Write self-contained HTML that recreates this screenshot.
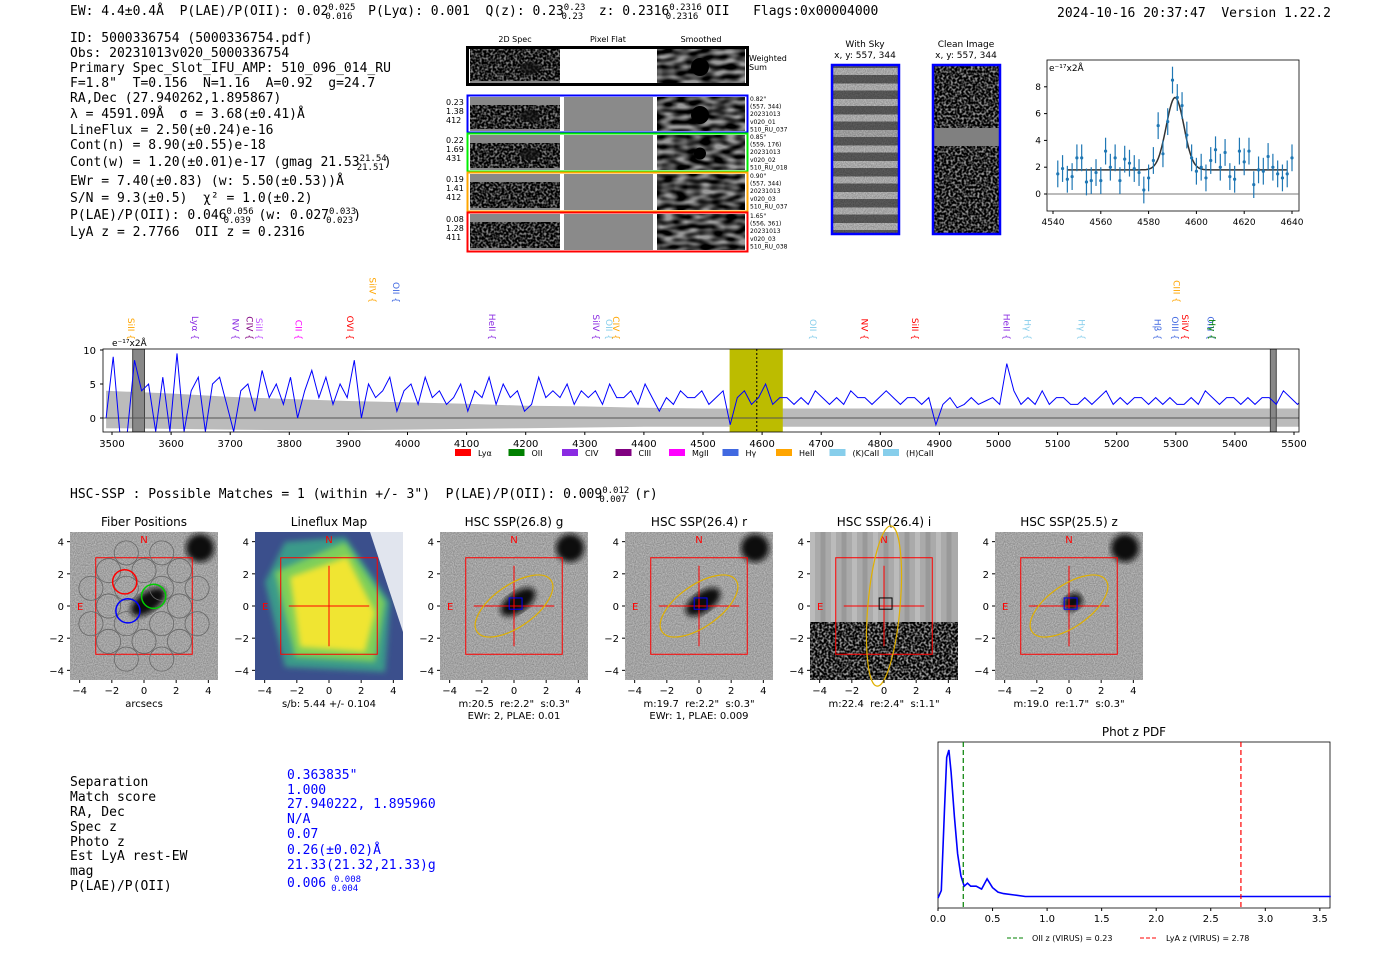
<!DOCTYPE html>
<html><head><meta charset="utf-8">
<style>
body{margin:0;background:#fff;width:1400px;height:953px;overflow:hidden;font-family:"Liberation Sans",sans-serif}
svg{position:absolute;left:0;top:0}
text{white-space:pre}
.m{font-family:"DejaVu Sans Mono","Liberation Mono",monospace;font-size:13px}
.s{font-family:"DejaVu Sans","Liberation Sans",sans-serif}
</style></head><body>
<svg id="root" width="1400" height="953" viewBox="0 0 1400 953" xmlns="http://www.w3.org/2000/svg" xml:space="preserve">
<defs>
<filter id="noise" x="0" y="0" width="100%" height="100%"><feTurbulence type="fractalNoise" baseFrequency="0.45" numOctaves="1" seed="3"/><feColorMatrix type="matrix" values="0 0 0 0 0  0 0 0 0 0  0 0 0 0 0  0 0 0 -3 2.2"/></filter>
<filter id="smooth" x="0" y="0" width="100%" height="100%"><feTurbulence type="fractalNoise" baseFrequency="0.08 0.2" numOctaves="1" seed="7"/><feColorMatrix type="matrix" values="0 0 0 0 0  0 0 0 0 0  0 0 0 0 0  0 0 0 -2.5 1.8"/></filter>
<filter id="fine" x="0" y="0" width="100%" height="100%"><feTurbulence type="fractalNoise" baseFrequency="0.9" numOctaves="1" seed="11"/><feColorMatrix type="matrix" values="0 0 0 0 0  0 0 0 0 0  0 0 0 0 0  0 0 0 -0.4 0.5"/></filter>
<filter id="blur2"><feGaussianBlur stdDeviation="3"/></filter>
<clipPath id="wclip"><rect x="103" y="349" width="1196" height="83"/></clipPath>
</defs>
<g class="m" fill="#000">
<text x="70" y="15">EW: 4.4±0.4Å  P(LAE)/P(OII): 0.02<tspan font-size="9" dy="-5">0.025</tspan><tspan font-size="9" dx="-30" dy="9">0.016</tspan><tspan dy="-4">  P(Lyα): 0.001  Q(z): 0.23</tspan><tspan font-size="9" dy="-5">0.23</tspan><tspan font-size="9" dx="-24" dy="9">0.23</tspan><tspan dy="-4">  z: 0.2316</tspan><tspan font-size="9" dy="-5">0.2316</tspan><tspan font-size="9" dx="-36" dy="9">0.2316</tspan><tspan dy="-4"> OII   Flags:0x00004000</tspan></text>
<text x="1057" y="17">2024-10-16 20:37:47  Version 1.22.2</text>
</g>
<g class="m">
<text x="70" y="42">ID: 5000336754 (5000336754.pdf)</text>
<text x="70" y="57">Obs: 20231013v020_5000336754</text>
<text x="70" y="72">Primary Spec_Slot_IFU_AMP: 510_096_014_RU</text>
<text x="70" y="87">F=1.8"  T=0.156  N=1.16  A=0.92  g=24.7</text>
<text x="70" y="102">RA,Dec (27.940262,1.895867)</text>
<text x="70" y="118">λ = 4591.09Å  σ = 3.68(±0.41)Å</text>
<text x="70" y="134">LineFlux = 2.50(±0.24)e-16</text>
<text x="70" y="149">Cont(n) = 8.90(±0.55)e-18</text>
<text x="70" y="166">Cont(w) = 1.20(±0.01)e-17 (gmag 21.53<tspan font-size="9" dy="-5">21.54</tspan><tspan font-size="9" dx="-30" dy="9">21.51</tspan><tspan dy="-4">)</tspan></text>
<text x="70" y="185">EWr = 7.40(±0.83) (w: 5.50(±0.53))Å</text>
<text x="70" y="202">S/N = 9.3(±0.5)  χ² = 1.0(±0.2)</text>
<text x="70" y="219">P(LAE)/P(OII): 0.046<tspan font-size="9" dy="-5">0.056</tspan><tspan font-size="9" dx="-30" dy="9">0.039</tspan><tspan dy="-4"> (w: 0.027</tspan><tspan font-size="9" dy="-5">0.033</tspan><tspan font-size="9" dx="-30" dy="9">0.023</tspan><tspan dy="-4">)</tspan></text>
<text x="70" y="236">LyA z = 2.7766  OII z = 0.2316</text>
</g>
<g id="spec2d"></g>
<g id="cutouts"></g>
<g id="zoomspec"></g>
<g id="widespec"></g>
<g class="m"><text x="70" y="498">HSC-SSP : Possible Matches = 1 (within +/- 3")  P(LAE)/P(OII): 0.009<tspan font-size="9" dy="-5">0.012</tspan><tspan font-size="9" dx="-30" dy="9">0.007</tspan><tspan dy="-4"> (r)</tspan></text></g>
<g id="hsc"></g>
<g class="m">
<text x="70" y="786">Separation</text><text x="70" y="801">Match score</text><text x="70" y="816">RA, Dec</text><text x="70" y="831">Spec z</text><text x="70" y="846">Photo z</text><text x="70" y="860">Est LyA rest-EW</text><text x="70" y="875">mag</text><text x="70" y="890">P(LAE)/P(OII)</text>
<g fill="#00f"><text x="287" y="779">0.363835"</text><text x="287" y="794">1.000</text><text x="287" y="808">27.940222, 1.895960</text><text x="287" y="823">N/A</text><text x="287" y="838">0.07</text><text x="287" y="854">0.26(±0.02)Å</text><text x="287" y="869">21.33(21.32,21.33)g</text><text x="287" y="887">0.006 <tspan font-size="9" dy="-5">0.008</tspan><tspan font-size="9" dx="-30" dy="9">0.004</tspan></text></g>
</g>
<g id="photz"></g>
</svg>
<script>
const NS="http://www.w3.org/2000/svg";
function mk(p,tag,at,txt){const e=document.createElementNS(NS,tag);for(const k in at)e.setAttribute(k,at[k]);if(txt!==undefined)e.textContent=txt;p.appendChild(e);return e;}

// ---------- 2D spec panels ----------
(function(){
const g=document.getElementById('spec2d');
mk(g,'text',{x:515,y:42,'font-size':8,'text-anchor':'middle',class:'s'},'2D Spec');
mk(g,'text',{x:608,y:42,'font-size':8,'text-anchor':'middle',class:'s'},'Pixel Flat');
mk(g,'text',{x:701,y:42,'font-size':8,'text-anchor':'middle',class:'s'},'Smoothed');
const rows=[{y:47,h:38,c:'#000',vals:null,info:null},
{y:95,h:38,c:'#00f',vals:['0.23','1.38','412'],info:['0.82"','(557, 344)','20231013','v020_01','510_RU_037']},
{y:133,h:39,c:'#0e0',vals:['0.22','1.69','431'],info:['0.85"','(559, 176)','20231013','v020_02','510_RU_018']},
{y:172,h:40,c:'orange',vals:['0.19','1.41','412'],info:['0.90"','(557, 344)','20231013','v020_03','510_RU_037']},
{y:212,h:40,c:'#f00',vals:['0.08','1.28','411'],info:['1.65"','(556, 361)','20231013','v020_03','510_RU_038']}];
rows.forEach((r,i)=>{
 const row=mk(g,'g',{});
 
 
 mk(row,'rect',{x:470,y:r.y+2,width:90,height:r.h-4,fill:'#888'});
 mk(row,'rect',{x:470,y:r.y+(i?10:2),width:90,height:r.h-(i?14:6),fill:'#888',filter:'url(#noise)'});
 if(i==0||i==1||i==2) mk(row,'ellipse',{cx:530,cy:r.y+r.h/2+2,rx:10,ry:6,fill:'#111',opacity:0.7});
 if(i>0){mk(row,'rect',{x:564,y:r.y+2,width:89,height:r.h-4,fill:'#8a8a8a'});}
 mk(row,'rect',{x:657,y:r.y+2,width:88,height:r.h-4,fill:'#999'});
 mk(row,'rect',{x:657,y:r.y+2,width:88,height:r.h-4,fill:'#999',filter:'url(#smooth)'});
 if(i<3) mk(row,'circle',{cx:700,cy:r.y+r.h/2+1,r:i==2?6:9,fill:'#000'});
 mk(row,'rect',{x:467.5,y:r.y+0.5,width:280,height:r.h-1,fill:'none',stroke:r.c,'stroke-width':i?2:3});
 if(r.vals) r.vals.forEach((v,k)=>mk(row,'text',{x:446,y:r.y+10+k*9,'font-size':8,class:'s'},v));
 if(r.info) r.info.forEach((v,k)=>mk(row,'text',{x:750,y:r.y+6+k*7.6,'font-size':6,class:'s'},v));
});
mk(g,'text',{x:749,y:61,'font-size':8,class:'s'},'Weighted');
mk(g,'text',{x:749,y:70,'font-size':8,class:'s'},'Sum');
})();

// ---------- sky / clean cutouts ----------
(function(){
const g=document.getElementById('cutouts');
mk(g,'text',{x:865,y:47,'font-size':9,'text-anchor':'middle',class:'s'},'With Sky');
mk(g,'text',{x:865,y:58,'font-size':9,'text-anchor':'middle',class:'s'},'x, y: 557, 344');
mk(g,'text',{x:966,y:47,'font-size':9,'text-anchor':'middle',class:'s'},'Clean Image');
mk(g,'text',{x:966,y:58,'font-size':9,'text-anchor':'middle',class:'s'},'x, y: 557, 344');
mk(g,'rect',{x:832,y:65,width:67,height:169,fill:'#777'});
for(let k=0;k<11;k++) mk(g,'rect',{x:832,y:68+k*15.5,width:67,height:7,fill:(k==4?'#ddd':'#eee')});
mk(g,'rect',{x:832,y:65,width:67,height:169,fill:'#888',filter:'url(#fine)'});
mk(g,'rect',{x:832,y:65,width:67,height:169,fill:'none',stroke:'#00f','stroke-width':2.5});
mk(g,'rect',{x:933,y:65,width:67,height:169,fill:'#999'});
mk(g,'rect',{x:933,y:65,width:67,height:169,fill:'#888',filter:'url(#noise)'});
mk(g,'rect',{x:933,y:128,width:67,height:18,fill:'#808080'});
mk(g,'rect',{x:933,y:65,width:67,height:169,fill:'none',stroke:'#00f','stroke-width':2.5});
})();

// ---------- line fit plot ----------
const fitWave=[4542,4544,4546,4548,4550,4552,4554,4556,4558,4560,4562,4564,4566,4568,4570,4572,4574,4576,4578,4580,4582,4584,4586,4588,4590,4592,4594,4596,4598,4600,4602,4604,4606,4608,4610,4612,4614,4616,4618,4620,4622,4624,4626,4628,4630,4632,4634,4636,4638,4640];
const fitFlux=[1.5,1.9,1.1,1.3,2.7,2.7,0.9,1.0,1.6,1.0,3.2,2.0,2.7,1.0,2.6,2.3,1.9,1.6,0.3,1.2,2.5,5.1,3.0,5.4,8.5,7.2,6.6,4.4,2.7,1.7,2.0,1.2,2.5,3.3,2.0,3.1,1.3,1.1,3.2,2.4,3.2,0.7,1.8,1.7,2.8,2.0,1.5,1.2,1.5,2.7];
const fitErr=[1.0,1.0,1.0,1.0,1.0,1.0,1.0,1.0,1.0,1.0,1.0,1.0,1.0,1.0,1.0,1.0,1.0,1.0,1.0,1.0,1.0,1.0,1.0,1.0,1.0,1.0,1.0,1.0,1.0,1.0,1.0,1.0,1.0,1.0,1.0,1.0,1.0,1.0,1.0,1.0,1.0,1.0,1.0,1.0,1.0,1.0,1.0,1.0,1.0,1.0];
const fitParams=[4591.09,3.68,1.8,5.4];
const fitXTicks=[4540,4560,4580,4600,4620,4640];
const fitYTicks=[0,2,4,6,8];
(function(){
const g=document.getElementById('zoomspec');
const X=w=>1053+(w-4540)*2.39, Y=v=>194-v*13.4;
mk(g,'rect',{x:1047,y:60,width:252,height:151,fill:'none',stroke:'#000','stroke-width':0.8});
mk(g,'line',{x1:1047,x2:1299,y1:Y(0),y2:Y(0),stroke:'#777','stroke-width':1});
fitXTicks.forEach(t=>{mk(g,'line',{x1:X(t),x2:X(t),y1:211,y2:214,stroke:'#000'});mk(g,'text',{x:X(t),y:225,'font-size':9,'text-anchor':'middle',class:'s'},t);});
fitYTicks.forEach(t=>{mk(g,'line',{x1:1044,x2:1047,y1:Y(t),y2:Y(t),stroke:'#000'});mk(g,'text',{x:1041,y:Y(t)+3,'font-size':9,'text-anchor':'end',class:'s'},t);});
mk(g,'text',{x:1049,y:71,'font-size':9,class:'s'},'e⁻¹⁷x2Å');
let d='';for(let w=4546;w<=4638;w+=0.5){const v=fitParams[2]+fitParams[3]*Math.exp(-0.5*((w-fitParams[0])/fitParams[1])**2);d+=(d?'L':'M')+X(w).toFixed(1)+','+Y(v).toFixed(1);}
mk(g,'path',{d:d,fill:'none',stroke:'#333','stroke-width':1.5});
fitWave.forEach((w,i)=>{const pt=mk(g,'g',{});


mk(pt,'line',{x1:X(w),x2:X(w),y1:Y(fitFlux[i]+fitErr[i]),y2:Y(fitFlux[i]-fitErr[i]),stroke:'#1f77b4','stroke-width':1.2});
mk(pt,'circle',{cx:X(w),cy:Y(fitFlux[i]),r:1.6,fill:'#1f77b4'});});
})();

// ---------- wide spectrum ----------
const specStart=3490, specStep=12;
const specFlux=[0,9,-3,-2,8.5,4,5,-2,6,-2,9.5,-2,4,6,-2,5,6,2,-2,4,5,1,7,3,5,2,6,0,4,7,3,6,2,5,3,8.5,0,5,3,4,6,1,4,5,2,6,3,4,2,3,5,1,4,3,6,2,5,3,4,1,2,6,3,4,3,5,2,4,3,4,2,5,3,3,4,2,5,3,1,3,2,4,3,3,4,2,3,4,-1,3,4,2,3,5,2,3,3,2,3,2,4,3,2,3,2,4,3,3,2,3,4,3,2,3,3,2,3,-1,2,3,1.5,2,3,2,2.5,3,2,8,4,2,3,2,4,2,3,3,2,2,3,2,3,4,2,3,2,3,3,2,3,2,3,2,2,3,2,4,3,2,3,3,2,3,2,3,3,2,4,3,2,3,2,3,2];
const errWave=[3490,3600,3700,3800,3900,4000,4100,4200,4300,4400,4500,4600,4700,4800,4900,5000,5100,5200,5300,5400,5510];
const errHi=[4,3.6,3.1,2.8,2.5,2.3,2.1,1.8,1.7,1.5,1.4,1.4,1.4,1.4,1.4,1.4,1.4,1.4,1.4,1.4,1.4];
const errLo=[-1.5,-1.6,-1.7,-1.8,-1.8,-1.7,-1.6,-1.5,-1.4,-1.3,-1.3,-1.3,-1.3,-1.3,-1.3,-1.3,-1.3,-1.3,-1.3,-1.3,-1.3];
const wideXTicks=[3500,3600,3700,3800,3900,4000,4100,4200,4300,4400,4500,4600,4700,4800,4900,5000,5100,5200,5300,5400,5500];
const wideYTicks=[0,5,10];
const lineNames=['SiII','Lyα','NV','CIV','SiII','CII','OVI','SiIV','OII','HeII','SiIV','OII','CIV','OII','NV','SiII','HeII','Hγ','Hγ','Hβ','OIII','SiIV','OIII','Hγ','CIII'];
const lineWave=[3531,3640,3708,3732,3748,3815,3902,3940,3980,4142,4318,4340,4352,4685,4772,4858,5013,5048,5140,5268,5298,5315,5358,5360,5300];
const lineColor=['orange','#8a2be2','#8a2be2','purple','#c050ff','#f0f','red','orange','#4169e1','#8a2be2','#8a2be2','#87ceeb','orange','#87ceeb','red','red','#8a2be2','#87ceeb','#87ceeb','#4169e1','#4169e1','red','#4169e1','green','orange'];
const lineRow=[1,1,1,1,1,1,1,0,0,1,1,1,1,1,1,1,1,1,1,1,1,1,1,1,0];
(function(){
const g=document.getElementById('widespec');
const X=w=>112+(w-3500)*0.591, Y=v=>418-v*6.8;
mk(g,'rect',{x:103,y:349,width:1196,height:83,fill:'#fff'});
const cg=mk(g,'g',{'clip-path':'url(#wclip)'});
let d='M'+X(errWave[0])+','+Y(errHi[0]);
errWave.forEach((w,i)=>d+='L'+X(w).toFixed(1)+','+Y(errHi[i]).toFixed(1));
for(let i=errWave.length-1;i>=0;i--)d+='L'+X(errWave[i]).toFixed(1)+','+Y(errLo[i]).toFixed(1);
mk(cg,'path',{d:d+'Z',fill:'#bbb'});
mk(cg,'rect',{x:X(4545),y:349,width:X(4635)-X(4545),height:83,fill:'#bcbc00'});
mk(cg,'rect',{x:X(3535),y:349,width:X(3555)-X(3535),height:83,fill:'#888',stroke:'#444'});
mk(cg,'rect',{x:X(5460),y:349,width:X(5470)-X(5460),height:83,fill:'#888',stroke:'#444'});
mk(cg,'line',{x1:103,x2:1299,y1:Y(0),y2:Y(0),stroke:'#555','stroke-width':1});
let p='';specFlux.forEach((v,i)=>{const w=specStart+i*specStep;p+=(p?'L':'M')+X(w).toFixed(1)+','+Y(v).toFixed(1);});
const ln=mk(cg,'path',{d:p,fill:'none',stroke:'#00f','stroke-width':1});


mk(cg,'line',{x1:X(4591),x2:X(4591),y1:349,y2:432,stroke:'#000','stroke-dasharray':'2,2'});
mk(g,'rect',{x:103,y:349,width:1196,height:83,fill:'none',stroke:'#000','stroke-width':0.8});
wideXTicks.forEach(t=>{mk(g,'line',{x1:X(t),x2:X(t),y1:432,y2:435,stroke:'#000'});mk(g,'text',{x:X(t),y:447,'font-size':10,'text-anchor':'middle',class:'s'},t);});
wideYTicks.forEach(t=>{mk(g,'line',{x1:100,x2:103,y1:Y(t),y2:Y(t),stroke:'#000'});mk(g,'text',{x:96,y:Y(t)+4,'font-size':10,'text-anchor':'end',class:'s'},t);});
mk(g,'text',{x:112,y:346,'font-size':9,class:'s'},'e⁻¹⁷x2Å');
lineNames.forEach((n,i)=>{const x=X(lineWave[i]),y=lineRow[i]?340:303;
 const t=mk(g,'text',{x:x,y:y,'font-size':9,fill:lineColor[i],transform:`rotate(90 ${x} ${y})`,class:'s','text-anchor':'end','dominant-baseline':'middle'},n+' {');
 
 });
const leg=[['Lyα','red'],['OII','green'],['CIV','#8a2be2'],['CIII','purple'],['MgII','#f0f'],['Hγ','#4169e1'],['HeII','orange'],['(K)CaII','#87ceeb'],['(H)CaII','#87ceeb']];
leg.forEach((l,i)=>{const x=455+i*53.5;const e=mk(g,'g',{});
 
 
 mk(e,'rect',{x:x,y:449,width:16,height:7,fill:l[1]});mk(e,'text',{x:x+23,y:456,'font-size':8,class:'s'},l[0]);});
})();

// ---------- HSC panels ----------
(function(){
const g=document.getElementById('hsc');
const panels=[['Fiber Positions',70,'arcsecs',''],['Lineflux Map',255,'s/b: 5.44 +/- 0.104',''],['HSC SSP(26.8) g',440,'m:20.5  re:2.2"  s:0.3"','EWr: 2, PLAE: 0.01'],['HSC SSP(26.4) r',625,'m:19.7  re:2.2"  s:0.3"','EWr: 1, PLAE: 0.009'],['HSC SSP(26.4) i',810,'m:22.4  re:2.4"  s:1.1"',''],['HSC SSP(25.5) z',995,'m:19.0  re:1.7"  s:0.3"','']];
const ticks=[-4,-2,0,2,4];
panels.forEach((p,i)=>{const x0=p[1],y0=532,W=148;const S=W/9.2,cx=x0+W/2,cy=y0+W/2;
 const pg=mk(g,'g',{});
 
 
 mk(pg,'text',{x:cx,y:526,'font-size':12,'text-anchor':'middle',class:'s'},p[0]);
 if(i==1){mk(pg,'rect',{x:x0,y:y0,width:W,height:W,fill:'#3b4f8c'});
  mk(pg,'path',{d:`M${x0+10},${y0+50} L${x0+30},${y0+10} L${x0+90},${y0+5} L${x0+135},${y0+70} L${x0+130},${y0+140} L${x0+30},${y0+135} Z`,fill:'#3a9a8a',filter:'url(#blur2)'});
  mk(pg,'path',{d:`M${x0+20},${y0+40} L${x0+90},${y0+10} L${x0+130},${y0+70} L${x0+120},${y0+130} L${x0+40},${y0+125} Z`,fill:'#7ecf5a',filter:'url(#blur2)'});
  mk(pg,'path',{d:`M${x0+35},${y0+45} L${x0+92},${y0+25} L${x0+120},${y0+80} L${x0+110},${y0+120} L${x0+45},${y0+115} Z`,fill:'#f0e530',filter:'url(#blur2)'});
  mk(pg,'path',{d:`M${x0+115},${y0} L${x0+W},${y0} L${x0+W},${y0+100} Z`,fill:'#fff',opacity:0.85});
 }else if(i==4){mk(pg,'rect',{x:x0,y:y0,width:W,height:W,fill:'#aaa'});
  for(let k=0;k<14;k++)mk(pg,'rect',{x:x0+k*10.5,y:y0,width:5,height:90,fill:k%2?'#999':'#bbb'});
  mk(pg,'rect',{x:x0,y:y0+90,width:W,height:58,fill:'#999',filter:'url(#noise)'});
 }else{mk(pg,'rect',{x:x0,y:y0,width:W,height:W,fill:'#e8e8e8'});
  mk(pg,'rect',{x:x0,y:y0,width:W,height:W,fill:'#ccc',filter:'url(#fine)'});
  mk(pg,'circle',{cx:x0+130,cy:y0+16,r:14,fill:'#111',filter:'url(#blur2)'});
  mk(pg,'ellipse',{cx:cx+4,cy:cy-4,rx:i==5?10:20,ry:i==5?8:10,fill:'#111',transform:`rotate(-35 ${cx+4} ${cy-4})`,filter:'url(#blur2)'});}
 mk(pg,'rect',{x:cx-S*3,y:cy-S*3,width:S*6,height:S*6,fill:'none',stroke:'red','stroke-width':1});
 mk(pg,'text',{x:cx,y:y0+11,'font-size':10,fill:'red','text-anchor':'middle',class:'s'},'N');
 mk(pg,'text',{x:x0+7,y:cy+4,'font-size':10,fill:'red',class:'s'},'E');
 if(i==0){const fc=[[0,0,'#ccc'],[-1.2,1.5,'red'],[0.6,0.6,'#0c0'],[-1,-0.3,'#00f']];
  [[-1,3],[1,3],[-2,2],[0,2],[2,2],[-3,1],[-1,1],[1,1],[3,1],[-2,0],[2,0],[-3,-1],[-1,-1],[1,-1],[3,-1],[-2,-2],[0,-2],[2,-2],[-1,-3],[1,-3]].forEach(c=>mk(pg,'circle',{cx:cx+c[0]*S*1.1,cy:cy-c[1]*S*1.1,r:S*0.75,fill:'none',stroke:'#666','stroke-width':0.8}));
  fc.slice(1).forEach(c=>mk(pg,'circle',{cx:cx+c[0]*S,cy:cy-c[1]*S,r:S*0.75,fill:'none',stroke:c[2],'stroke-width':1.5}));
 }else{mk(pg,'line',{x1:cx-S*2.5,x2:cx+S*2.5,y1:cy,y2:cy,stroke:'red','stroke-width':1});mk(pg,'line',{x1:cx,x2:cx,y1:cy-S*2.5,y2:cy+S*2.5,stroke:'red','stroke-width':1});}
 if(i>=2){mk(pg,'ellipse',{cx:cx,cy:cy,rx:i==4?S*5:S*2.8,ry:i==4?S*1:S*1.3,fill:'none',stroke:'#e0b000','stroke-width':1.2,transform:`rotate(${i==4?-85:-35} ${cx} ${cy})`});
  mk(pg,'rect',{x:cx-S*0.3,y:cy-S*0.5,width:S*0.8,height:S*0.7,fill:'none',stroke:i==4?'#000':'#00f','stroke-width':1});}
 ticks.forEach(t=>{mk(pg,'line',{x1:cx+t*S,x2:cx+t*S,y1:y0+W,y2:y0+W+3,stroke:'#000'});mk(pg,'text',{x:cx+t*S,y:y0+W+14,'font-size':10,'text-anchor':'middle',class:'s'},t==0?'0':(t<0?'−'+(-t):t));
  mk(pg,'line',{x1:x0-3,x2:x0,y1:cy-t*S,y2:cy-t*S,stroke:'#000'});mk(pg,'text',{x:x0-6,y:cy-t*S+4,'font-size':10,'text-anchor':'end',class:'s'},t==0?'0':(t<0?'−'+(-t):t));});
 mk(pg,'text',{x:cx,y:707,'font-size':10,'text-anchor':'middle',class:'s'},p[2]);
 if(p[3])mk(pg,'text',{x:cx,y:719,'font-size':10,'text-anchor':'middle',class:'s'},p[3]);
});
})();

// ---------- phot z PDF ----------
const pzZ=[0,0.03,0.06,0.08,0.1,0.12,0.15,0.18,0.21,0.24,0.27,0.3,0.35,0.4,0.45,0.5,0.55,0.6,0.7,0.8,1.0,1.5,2.0,2.5,3.0,3.6];
const pzP=[0,0.05,0.6,0.95,1.0,0.85,0.55,0.3,0.15,0.08,0.1,0.08,0.08,0.06,0.13,0.07,0.04,0.03,0.02,0.01,0.01,0.01,0.01,0.01,0.01,0.01];
const pzTicks=[0,0.5,1.0,1.5,2.0,2.5,3.0,3.5];
const pzMarks=[0.2316,2.7766];
(function(){
const g=document.getElementById('photz');
const X=z=>938+z*109.1, Y=p=>898-p*148;
mk(g,'text',{x:1134,y:736,'font-size':12,'text-anchor':'middle',class:'s'},'Phot z PDF');
mk(g,'rect',{x:938,y:742,width:392,height:166,fill:'none',stroke:'#000','stroke-width':0.8});
let d='';pzZ.forEach((z,i)=>d+=(d?'L':'M')+X(z).toFixed(1)+','+Y(pzP[i]).toFixed(1));
mk(g,'path',{d:d,fill:'none',stroke:'#00f','stroke-width':1.6});
mk(g,'line',{x1:X(pzMarks[0]),x2:X(pzMarks[0]),y1:742,y2:908,stroke:'green','stroke-dasharray':'5,3','stroke-width':1.2});
mk(g,'line',{x1:X(pzMarks[1]),x2:X(pzMarks[1]),y1:742,y2:908,stroke:'red','stroke-dasharray':'5,3','stroke-width':1.2});
pzTicks.forEach(t=>{mk(g,'line',{x1:X(t),x2:X(t),y1:908,y2:911,stroke:'#000'});mk(g,'text',{x:X(t),y:922,'font-size':10,'text-anchor':'middle',class:'s'},t.toFixed(1));});
mk(g,'line',{x1:1007,x2:1025,y1:938,y2:938,stroke:'green','stroke-dasharray':'4,2'});
mk(g,'text',{x:1032,y:941,'font-size':8,class:'s'},'OII z (VIRUS) = 0.23');
mk(g,'line',{x1:1140,x2:1158,y1:938,y2:938,stroke:'red','stroke-dasharray':'4,2'});
mk(g,'text',{x:1166,y:941,'font-size':8,class:'s'},'LyA z (VIRUS) = 2.78');
})();
</script>
</body></html>
